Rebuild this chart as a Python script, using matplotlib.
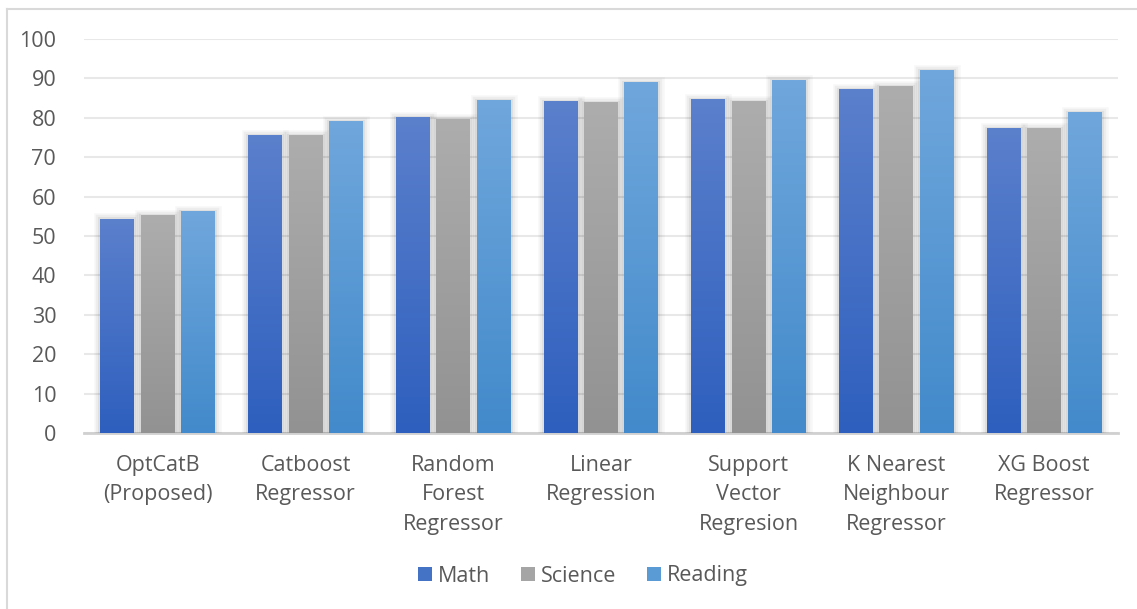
import matplotlib
matplotlib.use("Agg")
import matplotlib.pyplot as plt
import matplotlib.patheffects as pe
from matplotlib.patches import Patch
from matplotlib.lines import Line2D
import numpy as np
from matplotlib.colors import LinearSegmentedColormap


models = [
    "OptCatB\n(Proposed)",
    "Catboost\nRegressor",
    "Random\nForest\nRegressor",
    "Linear\nRegression",
    "Support\nVector\nRegresion",
    "K Nearest\nNeighbour\nRegressor",
    "XG Boost\nRegressor",
]
math = [54.3, 75.4, 80.0, 84.1, 84.6, 87.1, 77.2]
science = [55.1, 75.4, 79.5, 83.8, 84.1, 87.9, 77.2]
reading = [56.1, 79.0, 84.3, 88.9, 89.4, 92.0, 81.3]

series = [
    ("Math", math, "#5b80cc", "#2e5fbe"),
    ("Science", science, "#adadad", "#929292"),
    ("Reading", reading, "#70a7dc", "#428acb"),
]

plt.rcParams["font.family"] = ["Open Sans", "DejaVu Sans"]
text_color = "#595959"
fs = 15.5

W, H = 1137, 609
fig = plt.figure(figsize=(W / 100, H / 100), dpi=100)
ax = fig.add_axes([84 / W, 1 - 433 / H, (1118 - 84) / W, (433 - 39) / H])

x = np.arange(len(models))
bar_w = 0.23
pitch = 0.274

# soft grey halo round each bar
shadow = [
    pe.Stroke(linewidth=9, foreground="#000000", alpha=0.03),
    pe.Stroke(linewidth=6, foreground="#000000", alpha=0.04),
    pe.Stroke(linewidth=3, foreground="#000000", alpha=0.06),
    pe.Normal(),
]

grad = np.linspace(0, 1, 256).reshape(-1, 1)
for i, (name, vals, top, bottom) in enumerate(series):
    pos = x + (i - 1) * pitch
    bars = ax.bar(pos, vals, width=bar_w, color=bottom, linewidth=0, zorder=2)
    cmap = LinearSegmentedColormap.from_list(name, [bottom, top])
    for b in bars:
        b.set_path_effects(shadow)
        x0 = b.get_x()
        ax.imshow(grad, cmap=cmap, origin="lower", aspect="auto",
                  extent=(x0, x0 + b.get_width(), 0, b.get_height()),
                  zorder=3, interpolation="bilinear")

ax.set_xlim(-0.5, len(models) - 0.5)
ax.set_ylim(0, 100)
ax.set_yticks(range(0, 101, 10))
ax.set_xticks(x)
ax.set_xticklabels(models, linespacing=1.55)
ax.tick_params(axis="both", length=0, labelsize=fs, colors=text_color)
ax.tick_params(axis="y", pad=20)
ax.tick_params(axis="x", pad=15.5)
ax.yaxis.grid(True, color="#e8e8e8", linewidth=1.5, zorder=0)
ax.set_axisbelow(True)
for s in ["top", "right", "left"]:
    ax.spines[s].set_visible(False)
ax.spines["bottom"].set_color("#d0d0d0")
ax.spines["bottom"].set_linewidth(2)
ax.spines["bottom"].set_zorder(1)

handles = [Patch(facecolor=c, edgecolor="none") for c in ["#4472c4", "#a5a5a5", "#5b9bd5"]]
leg = fig.legend(handles, [s[0] for s in series], loc="center",
                 bbox_to_anchor=(583 / W, 1 - 576 / H), ncol=3, frameon=False,
                 fontsize=fs, handlelength=0.65, handleheight=0.65,
                 handletextpad=0.3, columnspacing=1.4)
for t in leg.get_texts():
    t.set_color(text_color)

# outer chart frame
fig.add_artist(Line2D([7 / W, 7 / W], [0, 1 - 9 / H], transform=fig.transFigure,
                      color="#d9d9d9", linewidth=1.5))
fig.add_artist(Line2D([7 / W, 1], [1 - 9 / H, 1 - 9 / H], transform=fig.transFigure,
                      color="#d9d9d9", linewidth=1.5))

fig.savefig("out.png", dpi=100, facecolor="white")
